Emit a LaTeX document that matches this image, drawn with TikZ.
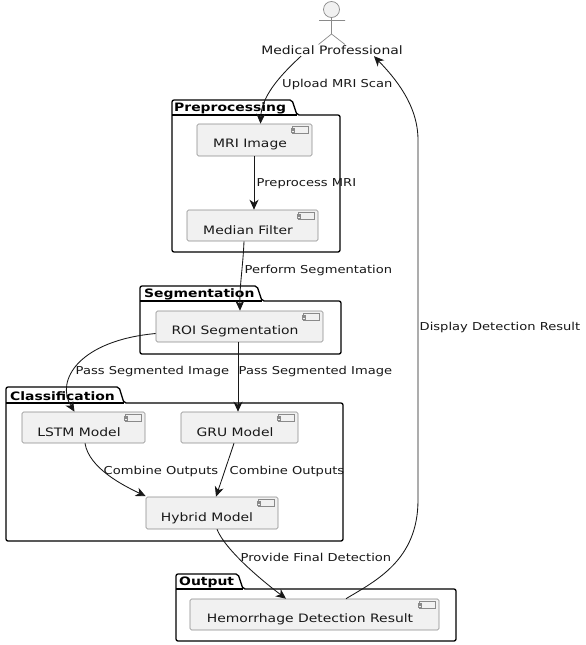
\documentclass[tikz,border=0pt]{standalone}
\usepackage{fontspec}
\setmainfont[FakeStretch=1.2]{DejaVu Sans}
\usetikzlibrary{arrows.meta}
\definecolor{compfill}{HTML}{F1F1F1}
\definecolor{compline}{HTML}{8A8A8A}
\definecolor{ink}{HTML}{181818}
\tikzset{
  compbox/.style={draw=compline,fill=compfill,rounded corners=1.5pt,line width=0.6pt,inner sep=0pt,text height=0pt,text depth=0pt,font=\fontsize{11.6}{14}\selectfont,text=ink},
  comptext/.style={inner sep=0pt,font=\fontsize{11.6}{14}\selectfont,text=ink},
  pkgline/.style={draw=black,line width=1.3pt,rounded corners=2pt,line join=round},
  pkgtitle/.style={anchor=west,inner sep=0pt,font=\bfseries\fontsize{11.6}{14}\selectfont,text=black},
  flow/.style={draw=ink,line width=0.85pt,-{Stealth[length=10pt,width=9pt,inset=3pt]}},
  edgetext/.style={anchor=west,inner sep=0pt,font=\fontsize{10.9}{13}\selectfont,text=ink},
  iconline/.style={draw=compline,line width=0.5pt,fill=compfill},
  actorline/.style={draw=compline,line width=0.7pt}
}
\newcommand{\pkgframe}[6]{% x1, tab right, x2, y-top, y-body, y-bottom
  \draw[pkgline] (#1,#5) -- (#1,#4) -- (#2-5,#4) -- (#2,#5) -- (#3,#5) -- (#3,#6) -- (#1,#6) -- cycle;
  \draw[pkgline] (#1,#5) -- (#2,#5);
}
\newcommand{\compicon}[1]{%
  \draw[iconline] ([xshift=-20pt,yshift=-3pt]#1.north east) rectangle ([xshift=-4.5pt,yshift=-10pt]#1.north east);
  \draw[iconline] ([xshift=-21.5pt,yshift=-4.5pt]#1.north east) rectangle ([xshift=-18.5pt,yshift=-6pt]#1.north east);
  \draw[iconline] ([xshift=-21.5pt,yshift=-7pt]#1.north east) rectangle ([xshift=-18.5pt,yshift=-8.5pt]#1.north east);
}
\begin{document}
\begin{tikzpicture}[x=1pt,y=-1pt]
\useasboundingbox (0,0) rectangle (586,645);
\fill[white] (0,0) rectangle (586,645);
% packages
\pkgframe{172}{297}{340}{100}{115}{252}
\node[pkgtitle] (tprep) at (174,108) {Preprocessing};
\pkgframe{140}{262}{341}{286}{301}{354}
\node[pkgtitle] (tseg) at (144,294) {Segmentation};
\pkgframe{6}{124}{343}{387}{403}{541}
\node[pkgtitle] (tcla) at (10,396) {Classification};
\pkgframe{176}{243}{456}{574}{589}{641}
\node[pkgtitle] (tout) at (179,582) {Output};
% actor
\node[circle,draw=compline,fill=compfill,line width=0.7pt,minimum size=16pt,inner sep=0pt] (head) at (331.5,9.5) {};
\coordinate (hip) at (331.5,34);
\coordinate (armL) at (319,20.5);
\coordinate (armR) at (345,20.5);
\coordinate (footL) at (318.5,44.5);
\coordinate (footR) at (345,44.5);
\draw[actorline] (head) -- (hip) (armL) -- (armR) (footL) -- (hip) -- (footR);
\node[comptext] (actor) at (332,50.5) {Medical Professional};
% components
\node[compbox,minimum width=115pt,minimum height=32pt] (mri) at (254.5,140) {};
\node[comptext] (tmri) at (250,144.5) {MRI Image};
\node[compbox,minimum width=131pt,minimum height=31pt] (median) at (252.5,225.5) {};
\node[comptext] (tmedian) at (248,230) {Median Filter};
\node[compbox,minimum width=167pt,minimum height=31pt] (roi) at (239.5,326.5) {};
\node[comptext] (troi) at (235,331) {ROI Segmentation};
\node[compbox,minimum width=123pt,minimum height=31pt] (lstm) at (83.5,427.5) {};
\node[comptext] (tlstm) at (79,432) {LSTM Model};
\node[compbox,minimum width=117pt,minimum height=31pt] (gru) at (239.5,427.5) {};
\node[comptext] (tgru) at (235,432) {GRU Model};
\node[compbox,minimum width=132pt,minimum height=32pt] (hybrid) at (212,513) {};
\node[comptext] (thybrid) at (207,518) {Hybrid Model};
\node[compbox,minimum width=249pt,minimum height=31pt] (result) at (314.5,614.5) {};
\node[comptext] (tresult) at (310,619) {Hemorrhage Detection Result};
\compicon{mri}\compicon{median}\compicon{roi}\compicon{lstm}\compicon{gru}\compicon{hybrid}\compicon{result}
% connectors
\draw[flow] ([xshift=-31pt,yshift=-1pt]actor.south) .. controls ++(-24,22) and ([xshift=7pt,yshift=26pt]mri.north) .. ([xshift=6pt]mri.north);
\draw[flow] ([xshift=-0.5pt]mri.south) -- ([xshift=-0.5pt]median.north -| mri.south);
\draw[flow] ([xshift=-8.5pt]median.south) .. controls ++(-1,25) and ([xshift=0pt,yshift=25pt]roi.north) .. ([xshift=0.5pt]roi.north);
\draw[flow] ([yshift=-7pt]roi.west) .. controls ++(-76,7) and (55,380) .. ([xshift=-9pt]lstm.north);
\draw[flow] ([xshift=-1.5pt]roi.south) -- ([xshift=-1.5pt]gru.north);
\draw[flow] ([xshift=1.5pt]lstm.south) .. controls ++(4,25) and ([xshift=-22pt,yshift=11pt]hybrid.north west) .. ([yshift=0.5pt]hybrid.north west);
\draw[flow] ([xshift=-5.5pt]gru.south) -- ([xshift=4pt]hybrid.north);
\draw[flow] ([xshift=5pt]hybrid.south) .. controls ++(8,20) and ([xshift=-55pt,yshift=20pt]result.north) .. ([xshift=-28.5pt]result.north);
\draw[flow] ([xshift=31.5pt]result.north) .. controls ++(30,-18) and (418,560) .. (418,500) -- (418,140) .. controls (418,105) and (395,78) .. ([xshift=42pt,yshift=-1pt]actor.south);
% edge labels
\node[edgetext] (l1) at (282,84) {Upload MRI Scan};
\node[edgetext] (l2) at (256.5,184) {Preprocess MRI};
\node[edgetext] (l3) at (244.5,270) {Perform Segmentation};
\node[edgetext] (l4) at (75.5,371) {Pass Segmented Image};
\node[edgetext] (l5) at (238.5,371) {Pass Segmented Image};
\node[edgetext] (l6) at (103.5,471) {Combine Outputs};
\node[edgetext] (l7) at (229.5,471) {Combine Outputs};
\node[edgetext] (l8) at (240.5,557) {Provide Final Detection};
\node[edgetext] (l9) at (419.5,327) {Display Detection Result};
\end{tikzpicture}
\end{document}
